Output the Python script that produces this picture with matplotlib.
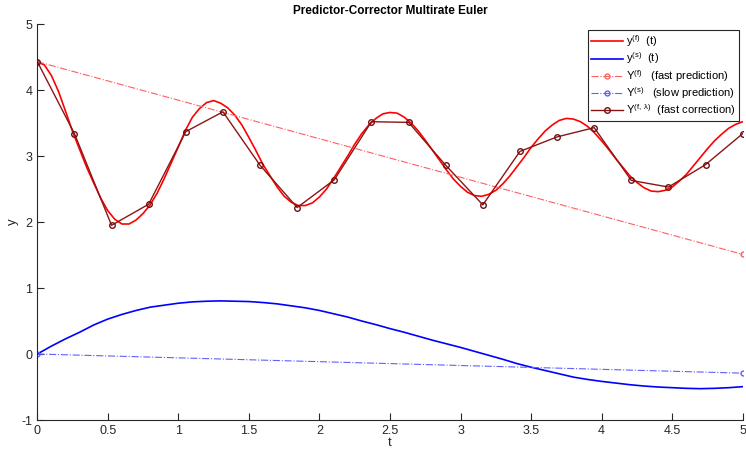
import numpy as np
import matplotlib.pyplot as plt

plt.rcParams['font.family'] = ['Liberation Sans', 'DejaVu Sans']
plt.rcParams['mathtext.fontset'] = 'custom'
plt.rcParams['mathtext.rm'] = 'Liberation Sans'
plt.rcParams['mathtext.it'] = 'Liberation Sans'
plt.rcParams['axes.unicode_minus'] = False

# fast solution y^(f)(t), sampled every 0.05
t_fine = np.linspace(0, 5, 101)
y_fast = [4.43, 4.38, 4.22, 3.98, 3.68, 3.37, 3.10, 2.83, 2.59, 2.36,
          2.17, 2.04, 1.97, 1.97, 2.03, 2.13, 2.26, 2.44, 2.66, 2.90,
          3.14, 3.39, 3.59, 3.72, 3.81, 3.84, 3.80, 3.73, 3.62, 3.47,
          3.28, 3.08, 2.87, 2.70, 2.53, 2.39, 2.30, 2.25, 2.25, 2.29,
          2.38, 2.50, 2.66, 2.83, 3.00, 3.18, 3.34, 3.47, 3.57, 3.64,
          3.66, 3.65, 3.59, 3.50, 3.38, 3.24, 3.09, 2.94, 2.79, 2.65,
          2.54, 2.45, 2.40, 2.39, 2.42, 2.48, 2.58, 2.70, 2.84, 2.98,
          3.13, 3.26, 3.38, 3.47, 3.54, 3.57, 3.56, 3.52, 3.45, 3.35,
          3.23, 3.10, 2.96, 2.83, 2.70, 2.60, 2.52, 2.47, 2.46, 2.48,
          2.53, 2.62, 2.72, 2.85, 2.98, 3.11, 3.23, 3.33, 3.42, 3.48,
          3.52]

# slow solution y^(s)(t), sampled every 0.1
t_slow = np.linspace(0, 5, 51)
y_slow = [0.00, 0.12, 0.23, 0.33, 0.44, 0.53, 0.60, 0.66, 0.71, 0.74,
          0.77, 0.79, 0.80, 0.805, 0.80, 0.795, 0.78, 0.76, 0.73, 0.70,
          0.66, 0.61, 0.56, 0.50, 0.445, 0.385, 0.33, 0.27, 0.21, 0.155,
          0.10, 0.04, -0.02, -0.08, -0.145, -0.20, -0.25, -0.30, -0.35, -0.385,
          -0.415, -0.44, -0.465, -0.485, -0.50, -0.51, -0.52, -0.525, -0.52, -0.51,
          -0.495]

# predictions (one macro step)
t_pred = [0, 5]
Y_fast_pred = [4.43, 1.51]
Y_slow_pred = [0.0, -0.29]

# fast correction (micro steps)
t_corr = np.linspace(0, 5, 20)
Y_corr = [4.43, 3.34, 1.95, 2.27, 3.37, 3.67, 2.86, 2.22, 2.64, 3.52,
          3.51, 2.86, 2.26, 3.07, 3.29, 3.43, 2.63, 2.53, 2.87, 3.34]

fig = plt.figure(figsize=(7.46, 4.51), dpi=100)
ax = fig.add_axes([0.05, 0.0687, 0.9456, 0.878])

ax.plot(t_fine, y_fast, color='#ff0000', lw=1.2, label=r'y$^{(f)}$  (t)')
ax.plot(t_slow, y_slow, color='#0000ff', lw=1.2, label=r'y$^{(s)}$  (t)')
ax.plot(t_pred, Y_fast_pred, color='#ff6060', lw=0.8, ls='-.', marker='o',
        ms=3.5, mfc='none', label=r'Y$^{(f)}$   (fast prediction)')
ax.plot(t_pred, Y_slow_pred, color='#6060ff', lw=0.8, ls='-.', marker='o',
        ms=3.5, mfc='none', label=r'Y$^{(s)}$   (slow prediction)')
ax.plot(t_corr, Y_corr, color='#8b1515', lw=1.0, marker='o', ms=4,
        mfc='none', mec='#701010', label=r'Y$^{(f,\ \lambda)}$  (fast correction)')

ax.set_xlim(0, 5)
ax.set_ylim(-1, 5)
ax.set_xticks(np.arange(0, 5.01, 0.5))
ax.set_xticklabels(['0', '0.5', '1', '1.5', '2', '2.5', '3', '3.5', '4', '4.5', '5'])
ax.set_yticks(range(-1, 6))
ax.tick_params(direction='in', length=5, width=0.8, labelsize=9,
               colors='#262626')
for s in ['top', 'right']:
    ax.spines[s].set_visible(False)
for s in ['left', 'bottom']:
    ax.spines[s].set_color('#262626')
    ax.spines[s].set_linewidth(0.8)

ax.set_xlabel('t', fontsize=9.5, color='#262626', labelpad=0)
ax.set_ylabel('y', fontsize=9.5, color='#262626', labelpad=2)
ax.set_title('Predictor-Corrector Multirate Euler', fontsize=8.5,
             fontweight='bold', pad=7)

leg = ax.legend(loc='upper right', bbox_to_anchor=(0.9975, 0.99), fontsize=8,
                fancybox=False, framealpha=1, edgecolor='#262626',
                handlelength=2.8, borderpad=0.3, labelspacing=0.12,
                handletextpad=0.3, borderaxespad=0.2)
leg.get_frame().set_linewidth(0.8)

fig.savefig('out.png', dpi=100)
